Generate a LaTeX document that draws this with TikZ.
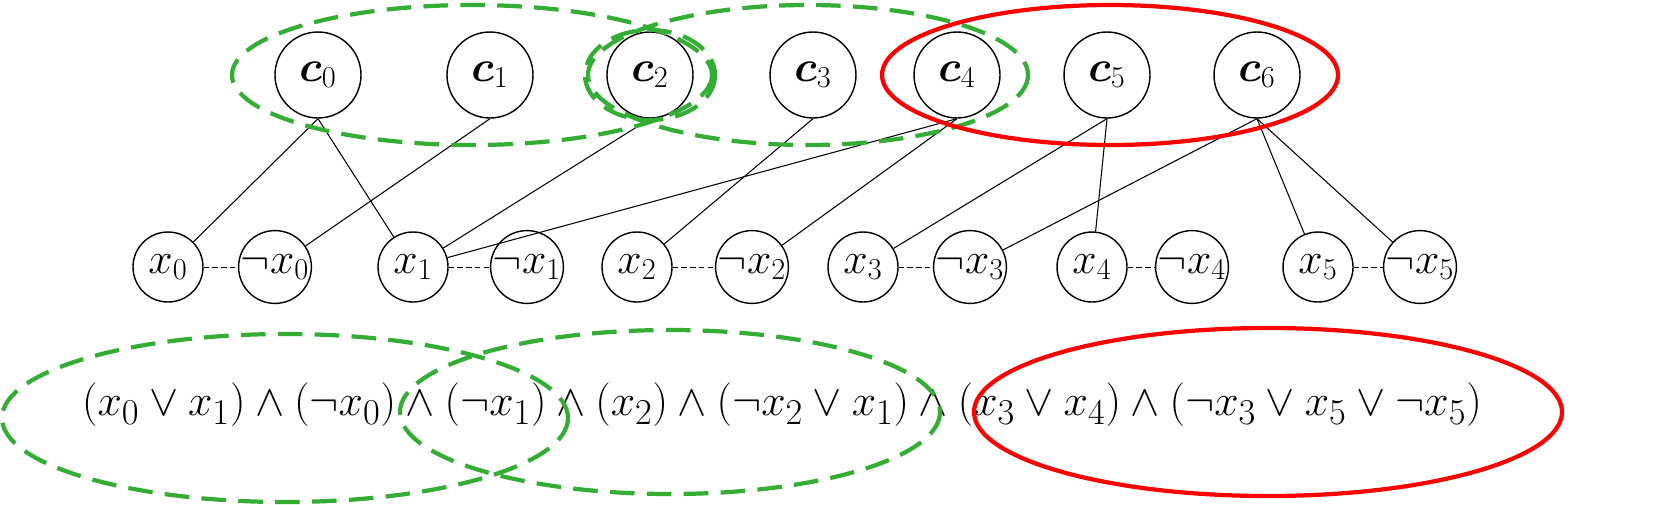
\documentclass[tikz,border=0pt]{standalone}
\usepackage{amsmath,bm}
\begin{document}
\begin{tikzpicture}[x=0.02cm,y=-0.02cm,
  clause/.style={draw,thick,circle,minimum size=1.72cm,inner sep=0pt,font=\fontsize{25}{29}\selectfont},
  lit/.style={draw,thick,circle,minimum size=1.4cm,inner sep=0pt,font=\fontsize{24}{28}\selectfont},
  grp/.style={draw=green!60!black!80,line width=2.4pt,dash pattern=on 14pt off 7pt},
  sel/.style={draw=red,line width=2.4pt}]
\useasboundingbox (0,0) rectangle (1656,504);
% clauses
\foreach \i/\x in {0/318,1/490,2/650,3/813,4/957,5/1107,6/1257}
  \node[clause] (c\i) at (\x,75) {$\bm{c}_{\i}$};
% literals
\foreach \i/\x/\y in {0/168/275,1/413/527,2/637/752,3/863/970,4/1092/1192,5/1318/1420} {
  \node[lit] (x\i) at (\x,267) {$x_{\i}$};
  \node[lit] (n\i) at (\y,267) {$\neg x_{\i}$};
  \draw[densely dashed] (x\i) -- (n\i);
}
% edges
\foreach \c/\l in {0/x0,0/x1,1/n0,2/x1,3/x2,4/x1,4/n2,5/x3,5/x4,6/n3,6/x5,6/n5}
  \draw[semithick] (c\c.south) -- (\l);
% groups
\draw[grp] (472,75) ellipse (240 and 70);
\draw[grp] (650,75) ellipse (65 and 45);
\draw[grp] (808,75) ellipse (220 and 70);
\draw[sel] (1110,75) ellipse (228 and 70);
% formula
\node[font=\fontsize{29}{34}\selectfont] (phi) at (782,405)
  {$(x_0\vee x_1)\wedge(\neg x_0)\wedge(\neg x_1)\wedge(x_2)\wedge(\neg x_2\vee x_1)\wedge(x_3\vee x_4)\wedge(\neg x_3\vee x_5\vee\neg x_5)$};
\draw[grp] (285,418) ellipse (283 and 84);
\draw[grp] (670,412) ellipse (270 and 82);
\draw[sel] (1268,412) ellipse (294 and 84);
\end{tikzpicture}
\end{document}
